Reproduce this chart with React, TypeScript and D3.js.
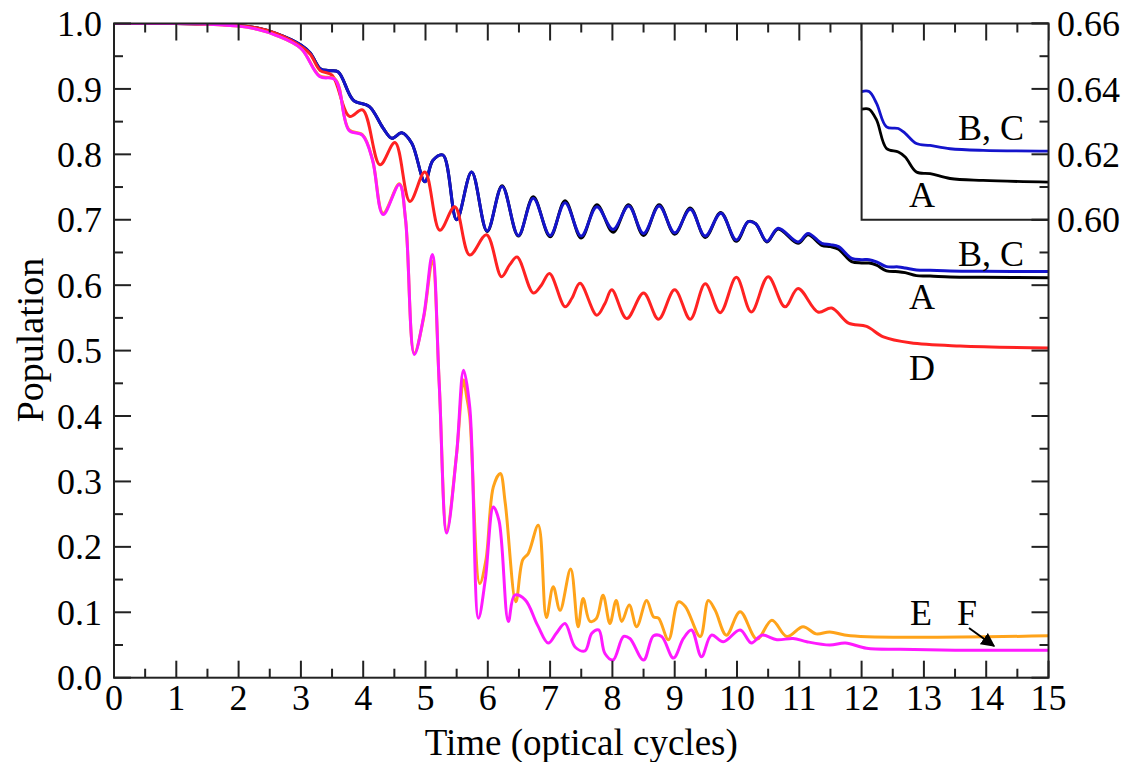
import React from "react";
import * as d3 from "d3";

// ---- Data (time in optical cycles, population) ----
const xTicks = [0, 1, 2, 3, 4, 5, 6, 7, 8, 9, 10, 11, 12, 13, 14, 15];
const yTicks = [0, 0.1, 0.2, 0.3, 0.4, 0.5, 0.6, 0.7, 0.8, 0.9, 1.0];
const insetTicks = [0.6, 0.62, 0.64, 0.66];

const seriesBC: [number, number][] = [
  [0, 1.0], [1.0, 1.0], [1.5, 0.999], [2.0, 0.997], [2.3, 0.993], [2.6, 0.985], [2.85, 0.975],
  [3.0, 0.967], [3.15, 0.955], [3.31, 0.931], [3.45, 0.928], [3.6, 0.926], [3.84, 0.883],
  [4.1, 0.873], [4.32, 0.84], [4.46, 0.8245], [4.62, 0.833], [4.78, 0.817], [4.99, 0.758],
  [5.12, 0.791], [5.28, 0.799], [5.5, 0.7], [5.74, 0.773], [5.99, 0.683], [6.23, 0.751],
  [6.49, 0.676], [6.73, 0.733], [7.0, 0.676], [7.24, 0.726], [7.5, 0.675], [7.75, 0.72],
  [8.01, 0.685], [8.26, 0.721], [8.5, 0.679], [8.75, 0.721], [9.0, 0.68], [9.25, 0.716],
  [9.49, 0.675], [9.74, 0.71], [9.99, 0.669], [10.18, 0.697], [10.3, 0.694], [10.48, 0.667],
  [10.66, 0.687], [10.98, 0.666], [11.14, 0.679], [11.36, 0.664], [11.5, 0.662], [11.63, 0.659],
  [11.84, 0.641], [12.0, 0.639], [12.12, 0.639], [12.24, 0.6356], [12.4, 0.6284], [12.59, 0.6279],
  [12.7, 0.6264], [12.88, 0.6233], [13.1, 0.6227], [13.42, 0.6217], [13.95, 0.6212], [15, 0.621],
];

const seriesA: [number, number][] = [
  [0, 1.0], [1.0, 1.0], [1.5, 0.999], [2.0, 0.997], [2.3, 0.993], [2.6, 0.985], [2.85, 0.975],
  [3.0, 0.967], [3.15, 0.955], [3.31, 0.931], [3.45, 0.928], [3.6, 0.926], [3.84, 0.883],
  [4.1, 0.873], [4.32, 0.84], [4.46, 0.8245], [4.62, 0.833], [4.78, 0.817], [4.99, 0.758],
  [5.12, 0.791], [5.28, 0.799], [5.5, 0.7], [5.74, 0.773], [5.99, 0.682], [6.23, 0.752],
  [6.49, 0.675], [6.73, 0.735], [7.0, 0.674], [7.24, 0.729], [7.5, 0.672], [7.75, 0.723],
  [8.01, 0.681], [8.26, 0.723], [8.5, 0.676], [8.75, 0.723], [9.0, 0.678], [9.25, 0.718],
  [9.49, 0.673], [9.74, 0.711], [9.99, 0.667], [10.18, 0.697], [10.3, 0.694], [10.48, 0.666],
  [10.66, 0.686], [10.98, 0.664], [11.14, 0.677], [11.36, 0.661], [11.5, 0.659], [11.63, 0.655],
  [11.84, 0.636], [12.0, 0.634], [12.12, 0.6338], [12.24, 0.6305], [12.4, 0.6218], [12.59, 0.6207],
  [12.7, 0.6192], [12.88, 0.6146], [13.1, 0.6141], [13.42, 0.6126], [13.95, 0.612], [15, 0.6115],
];

const seriesD: [number, number][] = [
  [0, 1.0], [1.0, 1.0], [1.5, 0.999], [2.0, 0.997], [2.3, 0.993], [2.6, 0.985], [2.85, 0.974],
  [3.0, 0.965], [3.15, 0.953], [3.31, 0.928], [3.5, 0.921], [3.78, 0.858], [3.99, 0.868],
  [4.27, 0.784], [4.51, 0.818], [4.75, 0.728], [4.99, 0.773], [5.23, 0.684], [5.47, 0.72],
  [5.71, 0.646], [5.98, 0.677], [6.22, 0.613], [6.35, 0.631], [6.47, 0.643], [6.73, 0.588],
  [6.86, 0.6], [6.99, 0.618], [7.24, 0.567], [7.35, 0.58], [7.48, 0.603], [7.75, 0.554],
  [7.88, 0.572], [7.99, 0.593], [8.23, 0.549], [8.5, 0.588], [8.74, 0.548], [9.0, 0.593],
  [9.25, 0.548], [9.49, 0.602], [9.73, 0.558], [9.99, 0.612], [10.23, 0.559], [10.5, 0.613],
  [10.77, 0.567], [10.98, 0.595], [11.3, 0.559], [11.52, 0.565], [11.79, 0.542], [12.08, 0.537],
  [12.35, 0.521], [12.78, 0.512], [13.58, 0.507], [15, 0.504],
];

const seriesE: [number, number][] = [
  [0, 1.0], [1.0, 1.0], [1.5, 0.999], [2.0, 0.996], [2.3, 0.991], [2.6, 0.982], [3.0, 0.962],
  [3.3, 0.92], [3.55, 0.915], [3.77, 0.838], [3.99, 0.83], [4.15, 0.792], [4.32, 0.71],
  [4.58, 0.755], [4.68, 0.7], [4.82, 0.496], [4.97, 0.55], [5.11, 0.637], [5.22, 0.45],
  [5.34, 0.225], [5.5, 0.343], [5.61, 0.455], [5.66, 0.43], [5.71, 0.4], [5.87, 0.144],
  [5.97, 0.18], [6.09, 0.292], [6.2, 0.312], [6.28, 0.267], [6.45, 0.116], [6.56, 0.18],
  [6.65, 0.19], [6.81, 0.233], [6.94, 0.092], [7.05, 0.139], [7.16, 0.103], [7.33, 0.166],
  [7.45, 0.078], [7.53, 0.121], [7.64, 0.086], [7.74, 0.09], [7.85, 0.126], [7.96, 0.083],
  [8.06, 0.118], [8.15, 0.086], [8.27, 0.111], [8.39, 0.078], [8.55, 0.118], [8.66, 0.093],
  [8.74, 0.091], [8.9, 0.058], [9.06, 0.116], [9.17, 0.109], [9.41, 0.063], [9.54, 0.118],
  [9.65, 0.103], [9.83, 0.065], [10.05, 0.101], [10.32, 0.059], [10.56, 0.088], [10.8, 0.063],
  [11.06, 0.078], [11.27, 0.067], [11.49, 0.07], [11.82, 0.064], [15, 0.064],
];

const seriesF: [number, number][] = [
  [0, 1.0], [1.0, 1.0], [1.5, 0.999], [2.0, 0.996], [2.3, 0.991], [2.6, 0.982], [3.0, 0.962],
  [3.3, 0.919], [3.55, 0.914], [3.77, 0.837], [3.99, 0.829], [4.15, 0.791], [4.32, 0.708],
  [4.58, 0.754], [4.68, 0.7], [4.82, 0.494], [4.97, 0.552], [5.11, 0.647], [5.22, 0.45],
  [5.34, 0.221], [5.5, 0.343], [5.61, 0.47], [5.71, 0.414], [5.85, 0.091], [5.96, 0.15],
  [6.09, 0.261], [6.18, 0.24], [6.33, 0.086], [6.43, 0.126], [6.6, 0.119], [6.8, 0.08],
  [6.97, 0.053], [7.1, 0.068], [7.24, 0.083], [7.4, 0.047], [7.56, 0.041], [7.67, 0.068],
  [7.78, 0.073], [7.88, 0.037], [8.01, 0.027], [8.18, 0.063], [8.28, 0.06], [8.5, 0.027],
  [8.66, 0.064], [8.79, 0.063], [8.98, 0.03], [9.14, 0.06], [9.27, 0.073], [9.43, 0.032],
  [9.59, 0.065], [9.78, 0.055], [10.05, 0.073], [10.23, 0.053], [10.4, 0.065], [10.64, 0.058],
  [10.9, 0.06], [11.12, 0.055], [11.49, 0.05], [11.74, 0.053], [12.08, 0.045], [12.62, 0.0434],
  [13.5, 0.042], [15, 0.042],
];

const insetBC: [number, number][] = [
  [12.0, 0.6392], [12.12, 0.6392], [12.24, 0.6356], [12.4, 0.6284], [12.59, 0.6279],
  [12.7, 0.6264], [12.88, 0.6233], [13.1, 0.6227], [13.42, 0.6217], [13.95, 0.6212], [15, 0.621],
];
const insetA: [number, number][] = [
  [12.0, 0.6338], [12.12, 0.6338], [12.24, 0.6305], [12.4, 0.6218], [12.59, 0.6207],
  [12.7, 0.6192], [12.88, 0.6146], [13.1, 0.6141], [13.42, 0.6126], [13.95, 0.612], [15, 0.6115],
];

const FONT = "Liberation Serif, Times New Roman, DejaVu Serif, serif";

export default function App() {
  const W = 1141, H = 762;
  const x = d3.scaleLinear().domain([0, 15]).range([114, 1048.5]);
  const y = d3.scaleLinear().domain([0, 1]).range([677.7, 23.5]);
  const yIn = d3.scaleLinear().domain([0.6, 0.66]).range([219.7, 23.5]);
  const x0 = x(0), x1 = x(15), y0 = y(0), y1 = y(1);

  const line = d3.line<[number, number]>().x((d) => x(d[0])).y((d) => y(d[1])).curve(d3.curveCatmullRom.alpha(0.5));
  const lineIn = d3.line<[number, number]>().x((d) => x(d[0])).y((d) => yIn(d[1])).curve(d3.curveCatmullRom.alpha(0.5));

  const xMinor = d3.range(0.5, 15, 1);
  const yMinor = d3.range(0.05, 1, 0.1);
  const MAJ = 17, MIN = 9;
  const axisColor = "#222";

  const series = [
    { d: seriesA, c: "#000000" },
    { d: seriesBC, c: "#1414cc" },
    { d: seriesD, c: "#ff2222" },
    { d: seriesE, c: "#ffa31a" },
    { d: seriesF, c: "#ff1aff" },
  ];

  const ix0 = x(12);
  const iy1 = yIn(0.6);
  const txt = { fontFamily: FONT };

  return (
    <svg width={W} height={H} style={{ position: "absolute", left: 0, top: 0, background: "#fff", fontFamily: FONT }}>
      <rect x={0} y={0} width={W} height={H} fill="#fff" />
      <defs>
        <clipPath id="plotClip">
          <rect x={x0} y={y1} width={x1 - x0} height={y0 - y1} />
        </clipPath>
        <clipPath id="insetClip">
          <rect x={ix0} y={y1} width={x1 - ix0} height={iy1 - y1} />
        </clipPath>
        <marker id="arrowHead" viewBox="0 0 10 10" refX="9" refY="5" markerWidth="7" markerHeight="7" orient="auto">
          <path d="M0,0 L10,5 L0,10 z" fill="#000" />
        </marker>
      </defs>

      <g clipPath="url(#plotClip)">
        {series.map((s, i) => (
          <path key={i} d={line(s.d) || ""} fill="none" stroke={s.c} strokeWidth={3} strokeLinejoin="round" />
        ))}
      </g>

      {/* ticks */}
      <g stroke={axisColor} strokeWidth={2}>
        {xTicks.map((t) => (
          <g key={"xt" + t}>
            <line x1={x(t)} x2={x(t)} y1={y0} y2={y0 - MAJ} />
            <line x1={x(t)} x2={x(t)} y1={y1} y2={y1 + MAJ} />
          </g>
        ))}
        {xMinor.map((t) => (
          <g key={"xm" + t}>
            <line x1={x(t)} x2={x(t)} y1={y0} y2={y0 - MIN} />
            <line x1={x(t)} x2={x(t)} y1={y1} y2={y1 + MIN} />
          </g>
        ))}
        {yTicks.map((v) => (
          <g key={"yt" + v}>
            <line x1={x0} x2={x0 + MAJ} y1={y(v)} y2={y(v)} />
            <line x1={x1} x2={x1 - MAJ} y1={y(v)} y2={y(v)} />
          </g>
        ))}
        {yMinor.map((v) => (
          <g key={"ym" + v}>
            <line x1={x0} x2={x0 + MIN} y1={y(v)} y2={y(v)} />
            <line x1={x1} x2={x1 - MIN} y1={y(v)} y2={y(v)} />
          </g>
        ))}
      </g>

      {/* inset */}
      <rect x={ix0} y={y1} width={x1 - ix0} height={iy1 - y1} fill="#fff" stroke="none" />
      <g clipPath="url(#insetClip)">
        <path d={lineIn(insetA) || ""} fill="none" stroke="#000" strokeWidth={2.8} />
        <path d={lineIn(insetBC) || ""} fill="none" stroke="#1414cc" strokeWidth={2.8} />
      </g>
      <g stroke={axisColor} strokeWidth={2}>
        {[0.61, 0.63, 0.65].map((v) => (
          <line key={"im" + v} x1={x1} x2={x1 - MIN} y1={yIn(v)} y2={yIn(v)} />
        ))}
        {insetTicks.map((v) => (
          <line key={"it" + v} x1={x1} x2={x1 - MAJ} y1={yIn(v)} y2={yIn(v)} />
        ))}
        {[12.5, 13.5, 14.5].map((t) => (
          <line key={"itx" + t} x1={x(t)} x2={x(t)} y1={y1} y2={y1 + MIN} />
        ))}
        {[13, 14].map((t) => (
          <line key={"itX" + t} x1={x(t)} x2={x(t)} y1={y1} y2={y1 + MAJ} />
        ))}
      </g>
      <path d={`M${ix0},${y1} V${iy1} H${x1}`} fill="none" stroke={axisColor} strokeWidth={2} />
      {insetTicks.map((v) => (
        <text key={"il" + v} style={txt} x={1057} y={yIn(v)} dy="0.35em" fontSize={36} fill="#000">{v.toFixed(2)}</text>
      ))}
      <text style={txt} x={991} y={140} fontSize={36} textAnchor="middle" fill="#000">B, C</text>
      <text style={txt} x={922} y={207} fontSize={36} textAnchor="middle" fill="#000">A</text>

      {/* frame */}
      <rect x={x0} y={y1} width={x1 - x0} height={y0 - y1} fill="none" stroke={axisColor} strokeWidth={2} />

      {/* tick labels */}
      {xTicks.map((t) => (
        <text key={"xl" + t} style={txt} x={x(t)} y={710} fontSize={36} textAnchor="middle" fill="#000">{t}</text>
      ))}
      {yTicks.map((v) => (
        <text key={"yl" + v} style={txt} x={102} y={y(v)} dy="0.35em" fontSize={36} textAnchor="end" fill="#000">{v.toFixed(1)}</text>
      ))}

      {/* axis titles */}
      <text style={txt} x={(x0 + x1) / 2} y={755} fontSize={37} textAnchor="middle" fill="#000">Time (optical cycles)</text>
      <text style={txt} transform={`translate(43,340) rotate(-90)`} fontSize={38} textAnchor="middle" fill="#000">Population</text>

      {/* curve labels */}
      <text style={txt} x={991} y={266} fontSize={36} textAnchor="middle" fill="#000">B, C</text>
      <text style={txt} x={922} y={309} fontSize={36} textAnchor="middle" fill="#000">A</text>
      <text style={txt} x={922} y={380} fontSize={36} textAnchor="middle" fill="#000">D</text>
      <text style={txt} x={921} y={625} fontSize={36} textAnchor="middle" fill="#000">E</text>
      <text style={txt} x={967} y={625} fontSize={36} textAnchor="middle" fill="#000">F</text>
      <line x1={969} y1={628} x2={994} y2={646} stroke="#000" strokeWidth={2} markerEnd="url(#arrowHead)" />
    </svg>
  );
}
